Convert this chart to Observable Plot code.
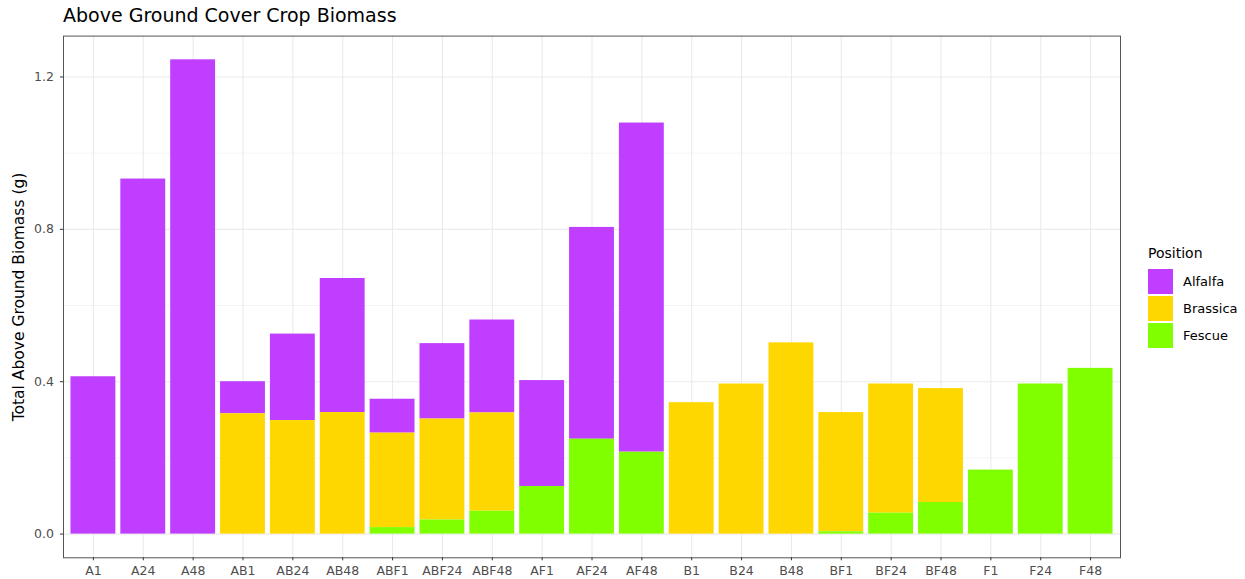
<!DOCTYPE html>
<html>
<head>
<meta charset="utf-8">
<script src="https://cdn.jsdelivr.net/npm/d3@7"></script>
<script src="https://cdn.jsdelivr.net/npm/@observablehq/plot@0.6"></script>
<style>
  body { margin: 0; background: #fff; font-family: "DejaVu Sans", sans-serif; }
  #wrap { position: relative; width: 1245px; height: 579px; overflow: hidden; }
  #title { height: 33px; box-sizing: border-box; padding-left: 63px; padding-top: 6px; font-size: 19px; line-height: 19px; color: #000; white-space: nowrap; }
  #legend { position: absolute; left: 1148px; top: 244px; font-size: 13px; color: #000; }
  #legend .ttl { font-size: 14px; height: 24px; line-height: 18px; }
  #legend .row { display: flex; align-items: center; height: 27px; }
  #legend .sw { width: 25px; height: 25px; margin-right: 10px; }
</style>
</head>
<body>
<div id="wrap">
  <div id="title">Above Ground Cover Crop Biomass</div>
  <div id="chart"></div>
  <div id="legend"></div>
</div>
<script>
const categories = ["A1","A24","A48","AB1","AB24","AB48","ABF1","ABF24","ABF48","AF1","AF24","AF48","B1","B24","B48","BF1","BF24","BF48","F1","F24","F48"];
const positions = ["Alfalfa","Brassica","Fescue"];
const colors = ["#BF3EFF","#FFD700","#7FFF00"];
const alfalfa  = [0.413,0.932,1.245,0.084,0.227,0.352,0.089,0.198,0.244,0.278,0.556,0.864,0,0,0,0,0,0,0,0,0];
const brassica = [0,0,0,0.316,0.298,0.319,0.248,0.265,0.258,0,0,0,0.345,0.394,0.502,0.313,0.339,0.299,0,0,0];
const fescue   = [0,0,0,0,0,0,0.017,0.037,0.060,0.125,0.249,0.215,0,0,0,0.006,0.055,0.083,0.168,0.394,0.435];
const yTicks = [0, 0.4, 0.8, 1.2];
const yMinor = [0.2, 0.6, 1.0];
const yLabel = "Total Above Ground Biomass (g)";

const series = {Alfalfa: alfalfa, Brassica: brassica, Fescue: fescue};
const data = [];
categories.forEach((c, i) => {
  positions.forEach(p => { if (series[p][i] > 0) data.push({cat: c, pos: p, value: series[p][i]}); });
});

const maxTotal = d3.max(categories, (c, i) => alfalfa[i] + brassica[i] + fescue[i]);
const pad = maxTotal * 0.05;

const chart = Plot.plot({
  width: 1125,
  height: 546,
  marginLeft: 63,
  marginRight: 5,
  marginTop: 2.6,
  marginBottom: 21.7,
  style: {fontFamily: "DejaVu Sans, sans-serif", background: "#fff"},
  x: {type: "band", domain: categories, paddingInner: 0.1, paddingOuter: 0.15, round: false, label: null},
  y: {domain: [-pad, maxTotal + pad], label: null},
  color: {domain: positions, range: colors},
  marks: [
    Plot.gridY(yMinor, {stroke: "#ebebeb", strokeOpacity: 1, strokeWidth: 0.6}),
    Plot.gridY(yTicks, {stroke: "#ebebeb", strokeOpacity: 1, strokeWidth: 1.1}),
    Plot.gridX({stroke: "#ebebeb", strokeOpacity: 1, strokeWidth: 1.1}),
    Plot.barY(data, {x: "cat", y: "value", fill: "pos", order: ["Fescue","Brassica","Alfalfa"]}),
    Plot.frame({stroke: "#555", strokeWidth: 1}),
    Plot.axisY({ticks: yTicks, tickFormat: d => d.toFixed(1), tickSize: 3, tickPadding: 6.5, label: null, fontSize: 12.5, fill: "#4d4d4d", stroke: "#333"}),
    Plot.axisX({tickSize: 3, tickPadding: 5.5, label: null, fontSize: 12.5, fill: "#4d4d4d", stroke: "#333"}),
    Plot.text([yLabel], {text: d => d, frameAnchor: "left", textAnchor: "middle", rotate: -90, dx: -44, fontSize: 15.5, fill: "#000"})
  ]
});
document.getElementById("chart").appendChild(chart);

const legend = d3.select("#legend");
legend.append("div").attr("class", "ttl").text("Position");
positions.forEach((p, i) => {
  const row = legend.append("div").attr("class", "row");
  row.append("div").attr("class", "sw").style("background", colors[i]);
  row.append("span").text(p);
});
</script>
</body>
</html>
